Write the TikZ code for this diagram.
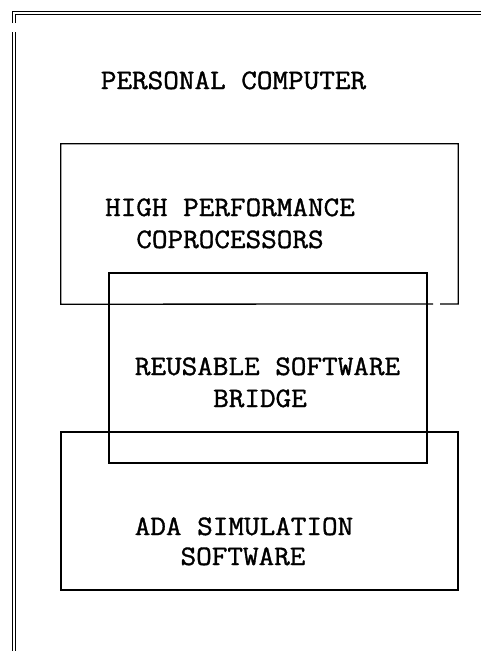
\documentclass[tikz,border=0pt]{standalone}
\usepackage{fontspec}
\usepackage{graphicx}
\newfontfamily\typefont[FakeBold=1.2]{Latin Modern Mono}
\newcommand\tline[1]{\scalebox{1}[0.93]{#1}}
\begin{document}
\begin{tikzpicture}[x=1pt,y=-1pt,
  frame/.style={line width=0.9pt,black},
  boxline/.style={line width=1.3pt,black,line join=miter},
  lbl/.style={font=\typefont\fontsize{30.3}{32}\selectfont,inner sep=0pt,anchor=base}]
\useasboundingbox (0,0) rectangle (481,651);
% outer double frame
\coordinate (fo1) at (12,23);
\coordinate (fo2) at (12,11);
\coordinate (fo3) at (481,11);
\coordinate (fi1) at (15.5,23);
\coordinate (fi2) at (15.5,14.5);
\coordinate (fi3) at (481,14.5);
\coordinate (fo4) at (12,32);
\coordinate (fo5) at (12,651);
\coordinate (fi4) at (15.5,32);
\coordinate (fi5) at (15.5,651);
\draw[frame] (fo1) -- (fo2) -- (fo3);
\draw[frame] (fi1) -- (fi2) -- (fi3);
\draw[frame] (fo4) -- (fo5);
\draw[frame] (fi4) -- (fi5);
% boxes
\node[minimum width=397pt,minimum height=160pt,inner sep=0pt] (hp) at (259.5,224) {};
\node[draw,boxline,minimum width=318pt,minimum height=190pt,inner sep=0pt] (rsb) at (268,368) {};
\node[draw,boxline,minimum width=397pt,minimum height=158pt,inner sep=0pt] (ada) at (259.5,511) {};
\coordinate (gapl) at (433,304);
\coordinate (gapr) at (440,304);
\draw[boxline] (gapr) -| (hp.north east) -| (hp.south west) -- (gapl);
% labels
\node[lbl] (pc) at (233.5,89) {\tline{PERSONAL COMPUTER}};
\node[lbl] (hpa) at (230,216) {\tline{HIGH PERFORMANCE}};
\node[lbl] (hpb) at (230,248) {\tline{COPROCESSORS}};
\node[lbl] (rsa) at (267.5,375) {\tline{REUSABLE SOFTWARE}};
\node[lbl] (rsbb) at (260,407) {\tline{BRIDGE}};
\node[lbl] (ada1) at (244,535) {\tline{ADA SIMULATION}};
\node[lbl] (ada2) at (243,565) {\tline{SOFTWARE}};
\end{tikzpicture}
\end{document}
